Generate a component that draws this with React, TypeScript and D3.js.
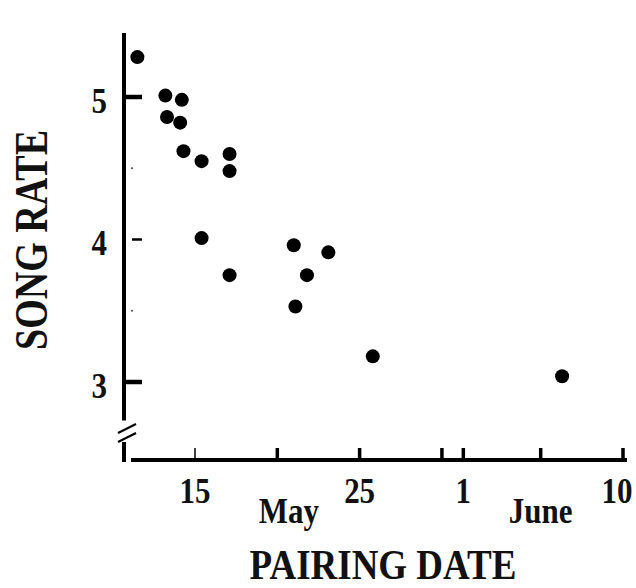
import { scaleLinear } from "d3";

// pairing day, counted from 1 May (June 1 = day 32)
const pairingDay = [11.5, 13.2, 14.2, 13.3, 14.1, 14.3, 15.4, 17.1, 17.1, 15.4, 17.1, 21.0, 23.1, 21.8, 21.1, 25.8, 37.3];
const songRate = [5.28, 5.01, 4.98, 4.86, 4.82, 4.62, 4.55, 4.6, 4.48, 4.01, 3.75, 3.96, 3.91, 3.75, 3.53, 3.18, 3.04];

// the printed June 1 tick sits close to the May 30 one
const xTickDays = [15, 20, 25, 30, 31.3, 36, 41];
const xTickLabels = ["15", "", "25", "", "1", "", "10"];
const monthLabels = [
  { day: 20.7, text: "May" },
  { day: 36, text: "June" },
];

const yMajor = [5, 4, 3];
const yMinor = [4.5, 3.5];

const W = 636;
const H = 588;
const AXIS_X = 124;
const AXIS_Y = 460;
const FONT = "'Liberation Serif', 'Times New Roman', serif";

const x = scaleLinear().domain([15, 41]).range([195, 623]);
const y = scaleLinear().domain([3, 5]).range([382, 97]);

export default function App() {
  return (
    <svg width={W} height={H} style={{ position: "absolute", left: 0, top: 0, background: "#fff" }}>
      {/* y axis with break */}
      <line x1={AXIS_X} x2={AXIS_X} y1={y(5.45)} y2={y(2.73)} stroke="#000" strokeWidth={4} />
      <line x1={AXIS_X} x2={AXIS_X} y1={442} y2={AXIS_Y + 2} stroke="#000" strokeWidth={4} />
      <line x1={118} y1={433} x2={136} y2={424} stroke="#000" strokeWidth={2.2} />
      <line x1={118} y1={442} x2={136} y2={433} stroke="#000" strokeWidth={2.2} />

      {yMajor.map((v) => (
        <g key={v}>
          <line
            x1={v === 4 ? AXIS_X + 8 : AXIS_X}
            x2={AXIS_X + 18}
            y1={y(v)}
            y2={y(v)}
            stroke="#000"
            strokeWidth={v === 4 ? 2.5 : 4.5}
          />
          <text
            transform={`translate(107,${y(v) + 15.5}) scale(1,1.15)`}
            textAnchor="end"
            fontFamily={FONT}
            fontWeight="bold"
            fontSize={31}
            fill="#111"
          >
            {v}
          </text>
        </g>
      ))}
      {yMinor.map((v) => (
        <circle key={v} cx={AXIS_X + 8} cy={y(v)} r={1.1} fill="#555" />
      ))}

      {/* x axis */}
      <line x1={131} x2={627} y1={AXIS_Y} y2={AXIS_Y} stroke="#000" strokeWidth={4} />
      {xTickDays.map((d, i) => (
        <g key={d}>
          <line x1={x(d)} x2={x(d)} y1={AXIS_Y} y2={AXIS_Y - 12} stroke="#000" strokeWidth={d === 15 ? 1.5 : 3.5} />
          {xTickLabels[i] && (
            <text
              transform={`translate(${Math.min(x(d), W - 19)},503) scale(1,1.15)`}
              textAnchor="middle"
              fontFamily={FONT}
              fontWeight="bold"
              fontSize={31}
              fill="#111"
            >
              {xTickLabels[i]}
            </text>
          )}
        </g>
      ))}
      {monthLabels.map((m) => (
        <text
          key={m.text}
          transform={`translate(${x(m.day)},523) scale(1,1.15)`}
          textAnchor="middle"
          fontFamily={FONT}
          fontWeight="bold"
          fontSize={31}
          fill="#111"
        >
          {m.text}
        </text>
      ))}

      {/* points */}
      {pairingDay.map((d, i) => (
        <circle key={i} cx={x(d)} cy={y(songRate[i])} r={7} fill="#000" />
      ))}

      {/* axis titles */}
      <text
        transform={`translate(383,579) scale(1,1.12)`}
        textAnchor="middle"
        fontFamily={FONT}
        fontWeight="bold"
        fontSize={37}
        fill="#111"
      >
        PAIRING DATE
      </text>
      <text
        transform={`translate(47,240) rotate(-90) scale(1,1.2)`}
        textAnchor="middle"
        fontFamily={FONT}
        fontWeight="bold"
        fontSize={38}
        fill="#111"
      >
        SONG RATE
      </text>
    </svg>
  );
}
